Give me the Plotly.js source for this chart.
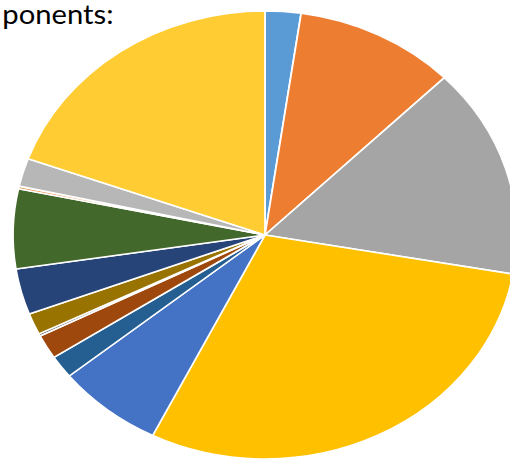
<!DOCTYPE html>
<html>
<head>
<meta charset="utf-8">
<script src="https://cdn.plot.ly/plotly-3.0.1.min.js"></script>
<style>
  html, body { margin: 0; padding: 0; overflow: hidden; background: #fff; width: 510px; height: 460px; }
  #chart { width: 470px; height: 460px; transform: scaleX(1.125); transform-origin: 0 0; }
</style>
</head>
<body>
<div id="chart"></div>
<script>
// Data (clockwise from 12 o'clock)
const categories = [
  'Component 1', 'Component 2', 'Component 3', 'Component 4', 'Component 5',
  'Component 6', 'Component 7', 'Component 8', 'Component 9', 'Component 10',
  'Component 11', 'Component 12', 'Component 13', 'Component 14'
];
const shares = [2.29, 10.32, 15.19, 29.56, 6.81, 1.64, 1.75, 0.17, 1.54, 3.31, 5.74, 0.19, 2.03, 19.47];
const sliceColors = [
  '#5B9BD5', '#ED7D31', '#A5A5A5', '#FFC000', '#4472C4',
  '#255E91', '#9E480E', '#636363', '#997300', '#264478',
  '#43682B', '#F1975A', '#B7B7B7', '#FFCD33'
];
const titleText = 'ponents:';

// Geometry (un-stretched plot coordinates)
const W = 470, H = 460;
const cx = 265 / 1.125, cy = 235, r = 224;

const trace = {
  type: 'pie',
  labels: categories,
  values: shares,
  sort: false,
  direction: 'clockwise',
  rotation: 0,
  textinfo: 'none',
  hoverinfo: 'label+percent',
  marker: { colors: sliceColors, line: { color: '#FFFFFF', width: 1.6 } },
  domain: {
    x: [(cx - r) / W, (cx + r) / W],
    y: [1 - (cy + r) / H, 1 - (cy - r) / H]
  }
};

const layout = {
  width: W,
  height: H,
  margin: { l: 0, r: 0, t: 0, b: 0 },
  paper_bgcolor: '#FFFFFF',
  showlegend: false,
  title: {
    text: titleText,
    xref: 'container', yref: 'container',
    x: 0, xanchor: 'left',
    y: 1, yanchor: 'top',
    pad: { t: 6, l: 2, r: 0, b: 0 },
    font: { family: 'Lato, sans-serif', size: 26, color: '#000000' }
  }
};

Plotly.newPlot('chart', [trace], layout, { displayModeBar: false, staticPlot: true });
</script>
</body>
</html>
